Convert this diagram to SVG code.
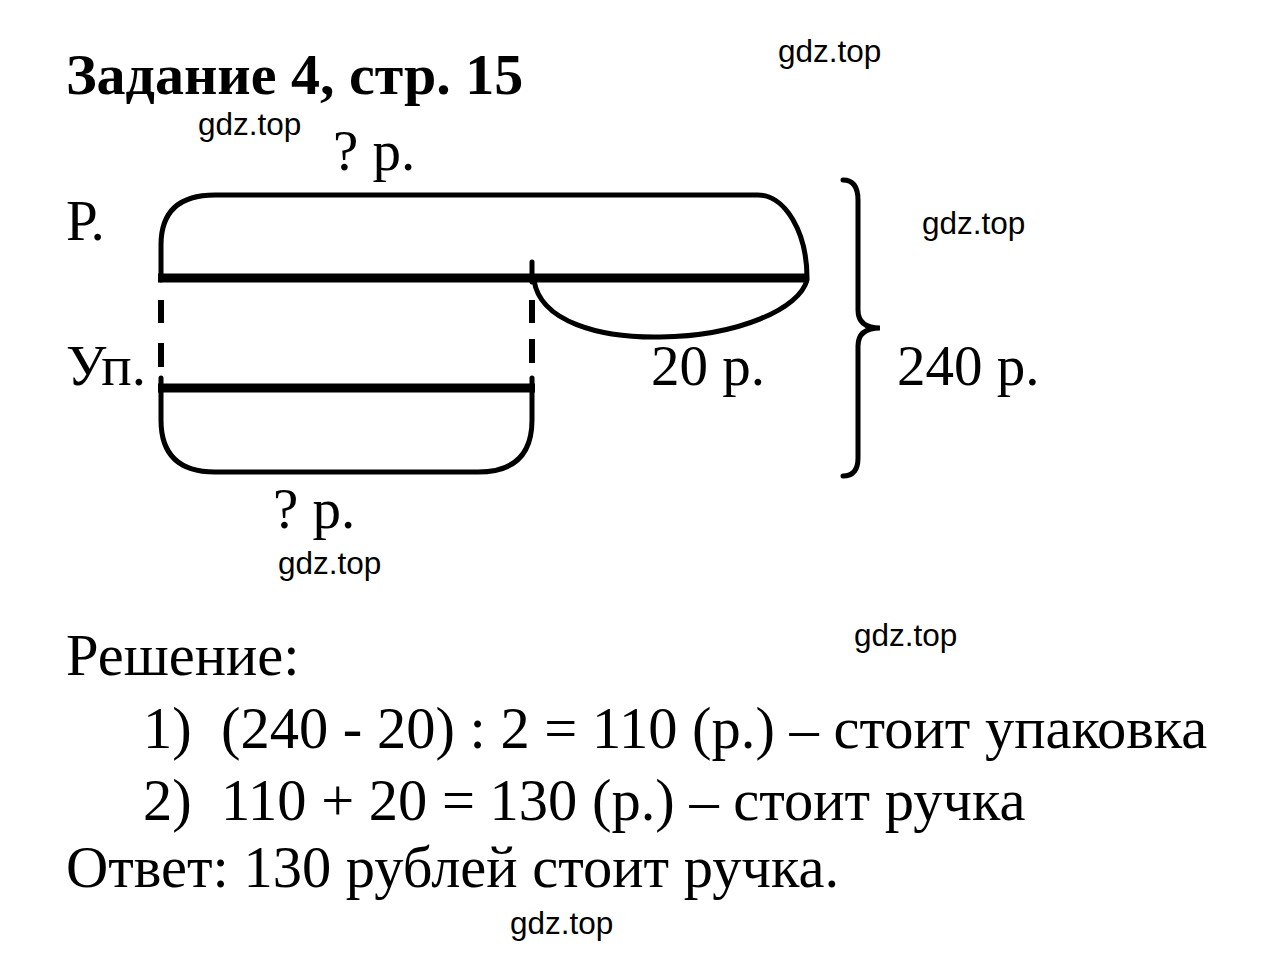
<svg xmlns="http://www.w3.org/2000/svg" width="1286" height="956" viewBox="0 0 1286 956">
<style>
.s{font-family:"Liberation Serif","Times New Roman",serif;fill:#000}
.t{font-size:57px}
.b{font-size:58.5px}
.wm{font-family:"Liberation Sans",Arial,sans-serif;font-size:31.5px;fill:#000}
.o{fill:none;stroke:#000;stroke-width:5;stroke-linecap:round}
.th{fill:none;stroke:#000;stroke-width:9}
.d{fill:none;stroke:#000;stroke-width:6}
</style>
<rect width="1286" height="956" fill="#fff"/>
<text class="s" x="66" y="94" font-size="58" font-weight="bold">Задание 4, стр. 15</text>
<g id="watermarks">
<text class="wm" x="778" y="62">gdz.top</text>
<text class="wm" x="198" y="135">gdz.top</text>
<text class="wm" x="922" y="234">gdz.top</text>
<text class="wm" x="278" y="574">gdz.top</text>
<text class="wm" x="854" y="646">gdz.top</text>
<text class="wm" x="510" y="934">gdz.top</text>
</g>
<g id="pen">
<path class="o" d="M161,280 L161,245 Q161,195 215,195 L758,195 A49,83 0 0 1 807,278"/>
<line class="th" x1="158" y1="278" x2="809" y2="278"/>
<text class="s t" x="66" y="240">Р.</text>
<text class="s t" x="333" y="170">? р.</text>
</g>
<g id="pack">
<path class="o" d="M161,378 L161,420 Q161,472 215,472 L478,472 Q532,472 532,420 L532,378"/>
<line class="th" x1="158" y1="388" x2="535" y2="388"/>
<text class="s t" x="66" y="385">Уп.</text>
<text class="s t" x="273" y="528">? р.</text>
</g>
<g id="diff">
<path class="o" d="M534,280 C540,322 600,338 660,337 C740,336 800,308 807,280"/>
<text class="s t" x="651" y="385">20 р.</text>
</g>
<g id="total">
<path class="o" d="M843,180 Q858,180 858,200 L858,310 Q858,328 880,328 Q858,328 858,346 L858,458 Q858,476 843,476"/>
<text class="s t" x="897" y="385">240 р.</text>
</g>
<g id="connectors">
<line class="o" x1="532" y1="262" x2="532" y2="282"/>
<line class="d" x1="161" y1="300" x2="161" y2="323"/>
<line class="d" x1="161" y1="343" x2="161" y2="367"/>
<line class="d" x1="532" y1="300" x2="532" y2="323"/>
<line class="d" x1="532" y1="339" x2="532" y2="363"/>
</g>
<g id="solution">
<text class="s b" x="66" y="675">Решение:</text>
<text class="s b" x="143" y="748" xml:space="preserve">1)  (240 - 20) : 2 = 110 (р.) – стоит упаковка</text>
<text class="s b" x="143" y="820" xml:space="preserve">2)  110 + 20 = 130 (р.) – стоит ручка</text>
<text class="s b" x="66" y="887">Ответ: 130 рублей стоит ручка.</text>
</g>
</svg>
